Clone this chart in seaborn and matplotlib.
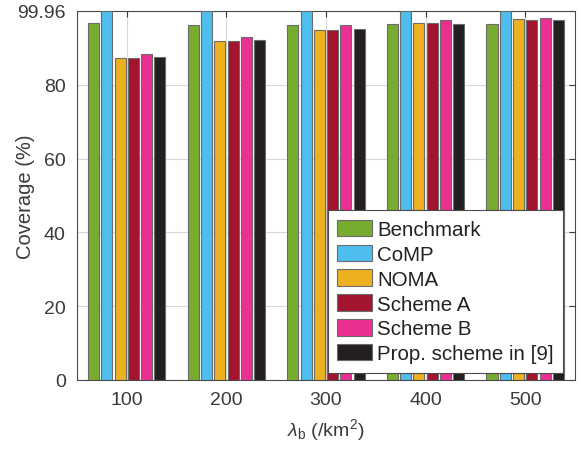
import numpy as np
import pandas as pd
import matplotlib
matplotlib.use("Agg")
import matplotlib.pyplot as plt
import seaborn as sns

# ================================
# DATA
# ================================
densities = ["100", "200", "300", "400", "500"]
schemes = ["Benchmark", "CoMP", "NOMA", "Scheme A", "Scheme B", "Prop. scheme in [9]"]
benchmark = [96.6, 96.2, 96.3, 96.4, 96.5]
comp = [99.96, 99.96, 99.96, 99.96, 99.96]
noma = [87.2, 91.9, 94.8, 96.7, 97.7]
scheme_a = [87.1, 91.8, 94.8, 96.6, 97.6]
scheme_b = [88.3, 93.0, 96.1, 97.5, 98.0]
prop_9 = [87.6, 92.2, 95.0, 96.4, 97.5]
colors = ["#77AC30", "#4DBEEE", "#EDB120", "#A2142F", "#EC2F92", "#231F20"]
y_ticks = [0, 20, 40, 60, 80, 99.96]
y_ticklabels = ["0", "20", "40", "60", "80", "99.96"]

series = [benchmark, comp, noma, scheme_a, scheme_b, prop_9]
df = pd.DataFrame({
    "density": np.tile(densities, len(schemes)),
    "scheme": np.repeat(schemes, len(densities)),
    "coverage": np.concatenate(series),
})

# ================================
# PLOT
# ================================
sns.set_style("white")
plt.rcParams["font.family"] = ["Liberation Sans", "DejaVu Sans"]
plt.rcParams["mathtext.fontset"] = "custom"
plt.rcParams["mathtext.rm"] = "Liberation Sans"
plt.rcParams["mathtext.it"] = "Liberation Sans:italic"

fig = plt.figure(figsize=(5.81, 4.56), dpi=100)
ax = fig.add_axes([0.1325, 0.1645, 0.8572, 0.8092])

sns.barplot(data=df, x="density", y="coverage", hue="scheme",
            order=densities, hue_order=schemes, palette=colors,
            width=0.8, gap=0.17, edgecolor="#6b6b6b", linewidth=0.8,
            saturation=1, errorbar=None, ax=ax, zorder=3)

ax.set_xlim(-0.5, 4.5)
ax.set_ylim(0, 99.96)
ax.set_yticks(y_ticks)
ax.set_yticklabels(y_ticklabels)
ax.grid(True, color="#d9d9d9", linewidth=0.8, zorder=0)
ax.set_axisbelow(True)

text_col = "#3a3a3a"
ax.tick_params(axis="both", direction="in", length=4, colors=text_col,
               labelsize=14, top=True, right=True, pad=8)
for s in ax.spines.values():
    s.set_color("#4a4a4a")
    s.set_linewidth(0.8)

ax.set_xlabel(r"$\lambda_\mathrm{b}$ (/km$^2$)", fontsize=14, color=text_col, labelpad=6)
ax.set_ylabel("Coverage (%)", fontsize=14.5, color=text_col)
ax.yaxis.set_label_coords(-0.085, 0.5)

leg = ax.legend(loc="lower right", bbox_to_anchor=(0.976, 0.02), fontsize=14.8,
                frameon=True, fancybox=False, edgecolor="#4a4a4a",
                framealpha=1, handlelength=1.7, handleheight=0.85,
                handletextpad=0.25, labelspacing=0.27, borderpad=0.45,
                borderaxespad=0)
leg.get_frame().set_linewidth(0.8)
for t in leg.get_texts():
    t.set_color("#222222")

fig.savefig("out.png", dpi=100)
